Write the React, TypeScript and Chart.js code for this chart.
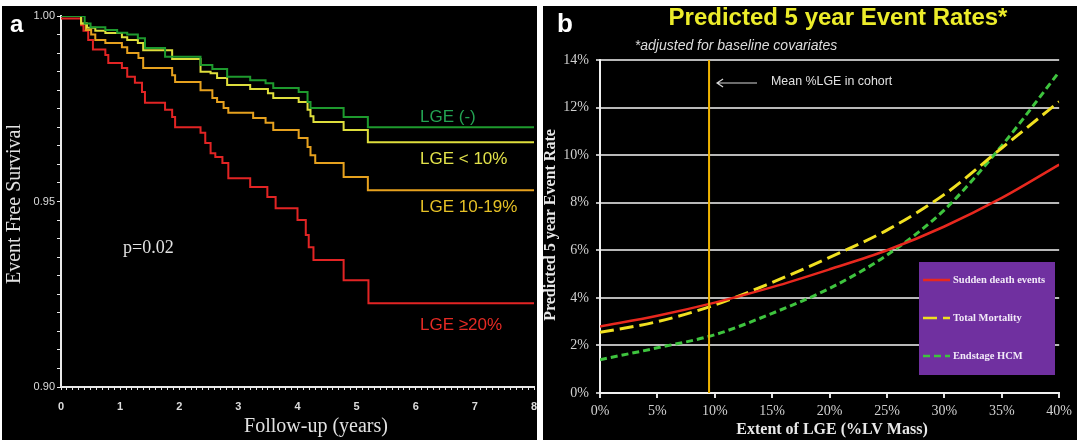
import React, { useEffect, useRef } from 'react';
import { Chart, registerables } from 'chart.js';
Chart.register(...registerables);

// ---------- Panel a: Kaplan-Meier data ----------
const lgeNoneTimes = [0, 0.40, 0.50, 0.75, 0.95, 1.12, 1.30, 1.42, 1.76, 2.36, 2.56, 2.81, 3.20, 3.46, 3.59, 4.02, 4.17, 4.22, 4.78, 5.19, 8];
const lgeNoneSurv = [1, 0.998, 0.997, 0.9962, 0.9955, 0.995, 0.994, 0.9914, 0.989, 0.9868, 0.9857, 0.9836, 0.9827, 0.9819, 0.9806, 0.9795, 0.9768, 0.9752, 0.9728, 0.970, 0.970];

const lgeLt10Times = [0, 0.34, 0.44, 0.58, 0.75, 1.03, 1.12, 1.30, 1.39, 1.88, 2.36, 2.53, 2.64, 2.81, 3.20, 3.50, 3.59, 4.02, 4.17, 4.22, 4.27, 4.78, 5.19, 8];
const lgeLt10Surv = [1, 0.998, 0.9968, 0.996, 0.9954, 0.9943, 0.9935, 0.9927, 0.9908, 0.9884, 0.985, 0.9846, 0.9833, 0.9814, 0.9803, 0.9792, 0.9779, 0.9768, 0.9747, 0.973, 0.9714, 0.9693, 0.966, 0.966];

const lge10to19Times = [0, 0.34, 0.42, 0.51, 0.58, 0.75, 1.03, 1.12, 1.31, 1.39, 1.88, 1.93, 2.36, 2.56, 2.64, 2.75, 2.83, 3.25, 3.46, 3.59, 4.02, 4.17, 4.22, 4.30, 4.78, 5.19, 8];
const lge10to19Surv = [1, 0.998, 0.9962, 0.995, 0.9935, 0.9927, 0.9916, 0.990, 0.9887, 0.986, 0.984, 0.9822, 0.980, 0.9779, 0.9768, 0.9752, 0.9739, 0.9725, 0.9712, 0.9693, 0.9671, 0.9647, 0.9625, 0.9604, 0.9566, 0.953, 0.953];

const lgeGe20Times = [0, 0.34, 0.38, 0.46, 0.54, 0.75, 0.80, 1.03, 1.12, 1.25, 1.37, 1.42, 1.76, 1.88, 1.93, 2.36, 2.44, 2.53, 2.61, 2.73, 2.83, 3.20, 3.49, 3.63, 4.00, 4.14, 4.19, 4.27, 4.78, 5.20, 8];
const lgeGe20Surv = [0.9993, 0.9975, 0.996, 0.9935, 0.991, 0.9895, 0.9873, 0.986, 0.9836, 0.982, 0.9795, 0.9766, 0.9747, 0.9728, 0.970, 0.9685, 0.9658, 0.963, 0.962, 0.9604, 0.9563, 0.9539, 0.9512, 0.9482, 0.945, 0.941, 0.9377, 0.9342, 0.9288, 0.9226, 0.9226];

const kmLabels = ['LGE (-)', 'LGE < 10%', 'LGE 10-19%', 'LGE \u226520%'];
const kmYMajor = [0.9, 0.95, 1.0];

// ---------- Panel b: predicted event rates ----------
const lgeExtent = [0, 5, 10, 15, 20, 25, 30, 35, 40];
const suddenDeath = [2.8, 3.25, 3.8, 4.45, 5.2, 6.0, 7.0, 8.2, 9.6];
const totalMortality = [2.55, 3.0, 3.7, 4.65, 5.7, 6.85, 8.35, 10.3, 12.25];
const endstageHCM = [1.4, 1.9, 2.45, 3.35, 4.4, 5.8, 7.7, 10.4, 13.5];
const seriesNames = ['Sudden death events', 'Total Mortality', 'Endstage HCM'];
const meanLGE = 9.5;

const SANS = '"Liberation Sans", Arial, sans-serif';
const SERIF = '"Liberation Serif", "Times New Roman", serif';

const pts = (xs: number[], ys: number[]) => xs.map((x, i) => ({ x, y: ys[i] }));

function PanelA() {
  const ref = useRef<HTMLCanvasElement | null>(null);
  useEffect(() => {
    const textPlugin = {
      id: 'kmText',
      afterDraw(chart: any) {
        const ctx = chart.ctx;
        ctx.save();
        ctx.fillStyle = '#ffffff';
        ctx.font = `bold 24px ${SANS}`;
        ctx.textAlign = 'left';
        ctx.textBaseline = 'alphabetic';
        ctx.fillText('a', 8, 26);

        ctx.fillStyle = '#e2e2e2';
        ctx.font = `20px ${SERIF}`;
        ctx.textAlign = 'center';
        ctx.textBaseline = 'middle';
        ctx.fillText('Follow-up (years)', 314, 421);
        ctx.save();
        ctx.translate(13, 198);
        ctx.rotate(-Math.PI / 2);
        ctx.fillText('Event Free Survival', 0, 0);
        ctx.restore();

        ctx.textAlign = 'left';
        ctx.font = `18px ${SERIF}`;
        ctx.fillText('p=0.02', 121, 242);

        ctx.font = `17px ${SANS}`;
        const cols = ['#23a352', '#e2e24a', '#e6c126', '#e42a24'];
        const ys = [111, 153, 201, 319];
        kmLabels.forEach((l, i) => {
          ctx.fillStyle = cols[i];
          ctx.fillText(l, 418, ys[i]);
        });
        ctx.restore();
      },
    };
    const chart = new Chart(ref.current as HTMLCanvasElement, {
      type: 'line',
      data: {
        datasets: [
          { label: kmLabels[0], data: pts(lgeNoneTimes, lgeNoneSurv), borderColor: '#1e9a2e' },
          { label: kmLabels[1], data: pts(lgeLt10Times, lgeLt10Surv), borderColor: '#dede3c' },
          { label: kmLabels[2], data: pts(lge10to19Times, lge10to19Surv), borderColor: '#e6a11e' },
          { label: kmLabels[3], data: pts(lgeGe20Times, lgeGe20Surv), borderColor: '#e22424' },
        ].map((d) => ({ ...d, stepped: 'before' as const, borderWidth: 2, pointRadius: 0, fill: false })),
      },
      plugins: [textPlugin],
      options: {
        animation: false,
        responsive: false,
        layout: { padding: { top: 10, right: 3, left: 0, bottom: 0 } },
        plugins: { legend: { display: false }, tooltip: { enabled: false } },
        scales: {
          x: {
            type: 'linear',
            min: 0,
            max: 8,
            afterFit: (s: any) => { s.height = 53; s.paddingRight = 0; s.paddingLeft = 0; },
            border: { display: true, color: '#e8e8e8', width: 2 },
            grid: { drawOnChartArea: false, drawTicks: true, tickLength: 3, color: '#e8e8e8', lineWidth: 1 },
            ticks: {
              stepSize: 0.1,
              maxTicksLimit: 200,
              autoSkip: false,
              maxRotation: 0,
              padding: 10,
              color: '#dcdcdc',
              font: { family: SANS, size: 11, weight: 'bold' },
              callback: (v: any) => (Math.abs(v - Math.round(v)) < 1e-6 ? String(Math.round(v)) : ''),
            },
          },
          y: {
            type: 'linear',
            min: 0.9,
            max: 1.0,
            afterFit: (s: any) => { s.width = 59; },
            border: { display: true, color: '#e8e8e8', width: 2 },
            grid: { drawOnChartArea: false, drawTicks: true, tickLength: 4, color: '#e8e8e8', lineWidth: 1 },
            ticks: {
              stepSize: 0.005,
              maxTicksLimit: 100,
              autoSkip: false,
              padding: 2,
              color: '#dcdcdc',
              font: { family: SANS, size: 11 },
              callback: (v: any) => {
                const m = kmYMajor.find((t) => Math.abs(t - v) < 1e-6);
                return m !== undefined ? m.toFixed(2) : '';
              },
            },
          },
        },
      } as any,
    });
    return () => chart.destroy();
  }, []);
  return <canvas ref={ref} width={535} height={434} style={{ display: 'block' }} />;
}

function PanelB() {
  const ref = useRef<HTMLCanvasElement | null>(null);
  useEffect(() => {
    const textPlugin = {
      id: 'predText',
      afterDatasetsDraw(chart: any) {
        const ctx = chart.ctx;
        const xs = chart.scales.x;
        const ca = chart.chartArea;
        ctx.save();
        // mean LGE vertical line
        const vx = xs.getPixelForValue(meanLGE);
        ctx.strokeStyle = '#f0b400';
        ctx.lineWidth = 2;
        ctx.beginPath();
        ctx.moveTo(vx, ca.top);
        ctx.lineTo(vx, ca.bottom);
        ctx.stroke();
        // arrow
        ctx.strokeStyle = '#d8d8d8';
        ctx.lineWidth = 1.2;
        ctx.beginPath();
        ctx.moveTo(vx + 8, ca.top + 23);
        ctx.lineTo(vx + 48, ca.top + 23);
        ctx.moveTo(vx + 14, ca.top + 19);
        ctx.lineTo(vx + 8, ca.top + 23);
        ctx.lineTo(vx + 14, ca.top + 27);
        ctx.stroke();
        ctx.fillStyle = '#e0e0e0';
        ctx.font = `12.4px ${SANS}`;
        ctx.textAlign = 'left';
        ctx.textBaseline = 'middle';
        ctx.fillText('Mean %LGE in cohort', vx + 62, ca.top + 22);

        // legend box
        const bx = 376, by = 256, bw = 136, bh = 113;
        ctx.fillStyle = '#7030a0';
        ctx.fillRect(bx, by, bw, bh);
        const cols = ['#e8281e', '#f0e020', '#3ec43e'];
        const dashes = [[], [14, 6], [7, 4]];
        const iy = [274, 312, 350];
        seriesNames.forEach((n, i) => {
          ctx.strokeStyle = cols[i];
          ctx.lineWidth = 2.5;
          ctx.setLineDash(dashes[i]);
          ctx.beginPath();
          ctx.moveTo(bx + 4, iy[i]);
          ctx.lineTo(bx + 31, iy[i]);
          ctx.stroke();
          ctx.setLineDash([]);
          ctx.fillStyle = '#f2eaf8';
          ctx.font = `bold 10.5px ${SERIF}`;
          ctx.fillText(n, bx + 34, iy[i]);
        });
        ctx.restore();
      },
      afterDraw(chart: any) {
        const ctx = chart.ctx;
        ctx.save();
        ctx.fillStyle = '#ffffff';
        ctx.font = `bold 26px ${SANS}`;
        ctx.textAlign = 'left';
        ctx.textBaseline = 'alphabetic';
        ctx.fillText('b', 14, 26);

        ctx.textAlign = 'center';
        ctx.textBaseline = 'middle';
        ctx.fillStyle = '#ecec2a';
        ctx.font = `bold 24px ${SANS}`;
        ctx.fillText('Predicted 5 year Event Rates*', 295, 12);
        ctx.fillStyle = '#dcdcdc';
        ctx.font = `italic 14px ${SANS}`;
        ctx.fillText('*adjusted for baseline covariates', 193, 40);

        ctx.fillStyle = '#e8e8e8';
        ctx.font = `bold 16px ${SERIF}`;
        ctx.fillText('Extent of LGE (%LV Mass)', 289, 424);
        ctx.save();
        ctx.translate(8, 219);
        ctx.rotate(-Math.PI / 2);
        ctx.font = `bold 16px ${SERIF}`;
        ctx.fillText('Predicted 5 year Event Rate', 0, 0);
        ctx.restore();
        ctx.restore();
      },
    };
    const chart = new Chart(ref.current as HTMLCanvasElement, {
      type: 'line',
      data: {
        datasets: [
          { label: seriesNames[0], data: pts(lgeExtent, suddenDeath), borderColor: '#e8281e', borderWidth: 2.5, borderDash: [] },
          { label: seriesNames[1], data: pts(lgeExtent, totalMortality), borderColor: '#f0e020', borderWidth: 3, borderDash: [14, 6] },
          { label: seriesNames[2], data: pts(lgeExtent, endstageHCM), borderColor: '#3ec43e', borderWidth: 3, borderDash: [7, 4] },
        ].map((d) => ({ ...d, pointRadius: 0, fill: false, cubicInterpolationMode: 'monotone' as const })),
      },
      plugins: [textPlugin],
      options: {
        animation: false,
        responsive: false,
        layout: { padding: { top: 54, right: 13, left: 0, bottom: 0 } },
        plugins: { legend: { display: false }, tooltip: { enabled: false } },
        scales: {
          x: {
            type: 'linear',
            min: 0,
            max: 40,
            afterFit: (s: any) => { s.height = 47; },
            border: { display: true, color: '#f0f0f0', width: 2 },
            grid: { drawOnChartArea: false, drawTicks: true, tickLength: 5, color: '#e0e0e0', lineWidth: 2 },
            ticks: {
              stepSize: 5,
              maxRotation: 0,
              padding: 5,
              color: '#d0d0d0',
              font: { family: SERIF, size: 14 },
              callback: (v: any) => `${v}%`,
            },
          },
          y: {
            type: 'linear',
            min: 0,
            max: 14,
            afterFit: (s: any) => { s.width = 57; },
            border: { display: true, color: '#f0f0f0', width: 2 },
            grid: { drawOnChartArea: true, drawTicks: true, tickLength: 4, color: '#b8b8b8', lineWidth: 2 },
            ticks: {
              stepSize: 2,
              padding: 7,
              color: '#d0d0d0',
              font: { family: SERIF, size: 14 },
              callback: (v: any) => `${v}%`,
            },
          },
        },
      } as any,
    });
    return () => chart.destroy();
  }, []);
  return <canvas ref={ref} width={534} height={434} style={{ display: 'block' }} />;
}

export default function App() {
  return (
    <div style={{ position: 'fixed', left: 0, top: 0, width: 1081, height: 440, background: '#ffffff', overflow: 'hidden' }}>
      <div style={{ position: 'absolute', left: 2, top: 6, width: 535, height: 434, background: '#000' }}>
        <PanelA />
      </div>
      <div style={{ position: 'absolute', left: 543, top: 6, width: 534, height: 434, background: '#000' }}>
        <PanelB />
      </div>
    </div>
  );
}
